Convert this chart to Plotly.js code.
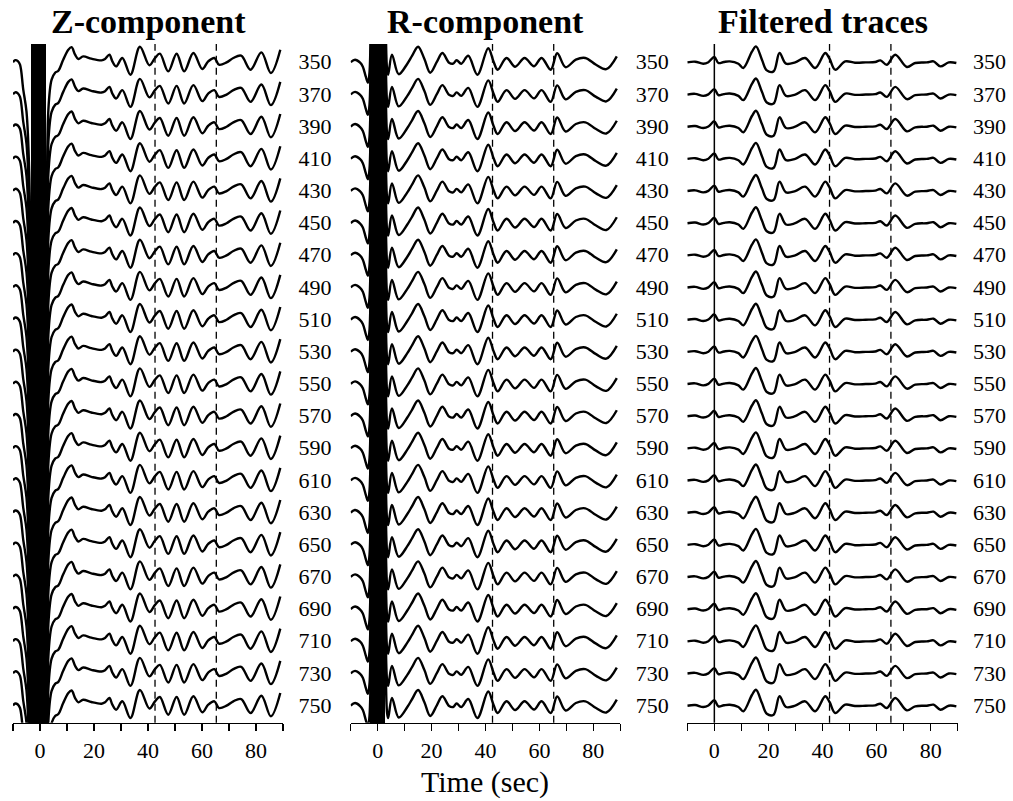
<!DOCTYPE html>
<html>
<head>
<meta charset="utf-8">
<script src="https://cdn.plot.ly/plotly-3.0.1.min.js"></script>
<style>
  html, body { margin: 0; padding: 0; background: #fff; }
  #chart { width: 1013px; height: 801px; }
</style>
</head>
<body>
<div id="chart"></div>
<script>
// ---- data ----
const distances = [350, 370, 390, 410, 430, 450, 470, 490, 510, 530, 550,
                   570, 590, 610, 630, 650, 670, 690, 710, 730, 750];

const panelTitles = ['Z-component', 'R-component', 'Filtered traces'];

// Z-component waveform (time in s, amplitude in picture units)
const zTime = [-10, -9.2, -8.2, -7.4, -6.2, -5.0, -4.0, -3.3, -2.9, -2.5, -2.0, -1.5, -1.0, -0.5, 0, 0.5, 1.0, 1.5, 1.9,
               2.6, 3.1, 4.3, 5.6, 6.8, 8.6, 10.5, 11.7, 13, 14.2, 16, 19, 22.8, 24.1, 25.7, 26.8, 28.2, 30.5, 33.5, 37,
               40.5, 42.6, 44.4, 47.5, 50.6, 53.4, 56.8, 60.1, 62.3, 64.6, 66.3, 69.1, 71.6, 74.5, 78, 82, 85.5, 89];
const zAmp  = [-0.5, 1.5, 0.5, -3, -28, -50, -110, -300, -1500, 1500, -1500, 1500, -1500, 1500, -1500, 1500, -1500, 1500, -1500,
               -250, -48, -18, -11, -9, 2, 12, 14.5, 7, 2.7, 5.3, 3, 1.3, 2.7, 7, 0.3, -4.7, 3.7, -13, 15,
               -3.5, 3.7, 8, -9.7, 8, -9.7, 8.7, -7.3, 0.3, 3.7, -3, -0.7, 3.7, 6, -8, 9.3, -11.3, 12];

// R-component waveform
const rTime = [-10, -8.4, -6.5, -5.5, -4.4, -3.6, -3.0, -2.5, -2.0, -1.5, -1.0, -0.5, 0, 0.5, 1.0, 1.5, 2.0, 2.5,
               3.0, 3.5, 3.9, 5.3, 7.8, 11, 12.8, 15, 17.3, 19.5, 22, 24, 26.5, 28, 29.3, 31, 33.6, 37, 41, 43, 44.5,
               47.8, 51, 54.5, 58, 60.8, 64.2, 66.6, 69.7, 73.5, 77, 81, 84.8, 88.7];
const rAmp  = [-0.5, 2, -1, -5, -15, -21, -10, 900, -900, 900, -900, 900, -900, 900, -900, 900, -900, 900,
               40, -8, -13, 7, -12.5, -2, 6, 15, 3, -11, 0, 8.7, -1, -2, 1.5, -2, 6, -13, 13.5, 0, -8,
               3.7, -5, 3.7, -4.5, 3.7, -8, 8.5, -5.5, 2, 3.7, -3, -7.5, 5.3];

// Filtered traces waveform
const fTime = [-10, -7.1, -4.1, -2.2, 0, 1.5, 3.5, 5.7, 8.9, 10.7, 13.9, 15.4, 17.6, 19.4, 21.9, 24.1, 26.5, 29.9,
               33.6, 37.3, 41, 42.6, 44.7, 48.4, 52, 56, 59.5, 61.4, 63.8, 66.9, 71.2, 74.3, 78.6, 81.1, 83.6, 86.7, 89.5];
const fAmp  = [-0.7, 0, -2, -0.5, 4.7, -1.3, -0.3, 0.3, -2, -6.3, 10, 15.3, 2, -8.7, -9.7, 8.7, -2, -0.7,
               3.7, -6.3, 8.7, 3, -8, 0.3, -1, -0.7, -0.3, 1.3, -3, 7, -5.3, -1.3, -0.7, 0.3, -4.7, -0.7, -1.3];

const pickTimes = [42.6, 65.3];     // dashed reference times
const zeroTime = [0];               // solid line on filtered panel
const xTickVals = [-10, 0, 10, 20, 30, 40, 50, 60, 70, 80, 90];
const xTickText = ['', '0', '', '20', '', '40', '', '60', '', '80', ''];
const xLabel = 'Time (sec)';

// ---- drawing ----
const waveTimes = [zTime, rTime, fTime];
const waveAmps  = [zAmp, rAmp, fAmp];
const gain = 422 / 678.7;   // picture units -> distance units
const FONT = 'Liberation Serif, Times New Roman, serif';

const traces = [];
for (let p = 0; p < 3; p++) {
  const ax = p === 0 ? '' : String(p + 1);
  distances.forEach(d => {
    traces.push({
      type: 'scatter', mode: 'lines',
      x: waveTimes[p],
      y: waveAmps[p].map(a => d - a * gain),
      xaxis: 'x' + ax, yaxis: 'y' + ax,
      line: { color: '#000', width: 2.4, shape: 'spline', smoothing: 1 },
      hoverinfo: 'skip', showlegend: false
    });
  });
}

const xDomains = [[13 / 1013, 283 / 1013], [350.7 / 1013, 620.3 / 1013], [687.3 / 1013, 957.7 / 1013]];
const yDomain = [78.3 / 801, 757 / 801];

const layout = {
  width: 1013, height: 801,
  margin: { l: 0, r: 0, t: 0, b: 0 },
  paper_bgcolor: '#fff', plot_bgcolor: '#fff',
  showlegend: false,
  font: { family: FONT, color: '#000' },
  shapes: [], annotations: []
};

for (let p = 0; p < 3; p++) {
  const ax = p === 0 ? '' : String(p + 1);
  layout['xaxis' + ax] = {
    domain: xDomains[p], anchor: 'y' + ax, range: [-10, 90],
    showline: true, linecolor: '#000', linewidth: 1.5,
    ticks: 'outside', ticklen: 7, tickwidth: 1.5, tickcolor: '#000',
    tickmode: 'array', tickvals: xTickVals, ticktext: xTickText,
    tickfont: { family: FONT, size: 22, color: '#000' },
    showgrid: false, zeroline: false, fixedrange: true
  };
  layout['yaxis' + ax] = {
    domain: yDomain, anchor: 'x' + ax, side: 'right', range: [761, 339],
    showline: false, showgrid: false, zeroline: false,
    ticks: 'outside', ticklen: 10, tickcolor: 'rgba(0,0,0,0)',
    tickmode: 'array', tickvals: distances, ticktext: distances.map(String),
    tickfont: { family: FONT, size: 22, color: '#000' },
    fixedrange: true
  };
  pickTimes.forEach(t => {
    layout.shapes.push({
      type: 'line', xref: 'x' + ax, yref: 'y' + ax + ' domain',
      x0: t, x1: t, y0: 0, y1: 1,
      line: { color: '#000', width: 1.3, dash: '7px,5px' }
    });
  });
  layout.annotations.push({
    text: '<b>' + panelTitles[p] + '</b>', xref: 'paper', yref: 'paper',
    x: (xDomains[p][0] + xDomains[p][1]) / 2, y: (801 - 22) / 801,
    xanchor: 'center', yanchor: 'middle', showarrow: false,
    font: { family: FONT, size: 34, color: '#000' }
  });
}
zeroTime.forEach(t => {
  layout.shapes.push({
    type: 'line', xref: 'x3', yref: 'y3 domain', x0: t, x1: t, y0: 0, y1: 1,
    line: { color: '#000', width: 1.5 }
  });
});
layout.annotations.push({
  text: xLabel, xref: 'paper', yref: 'paper',
  x: 485 / 1013, y: (801 - 782) / 801, xanchor: 'center', yanchor: 'middle',
  showarrow: false, font: { family: FONT, size: 30, color: '#000' }
});

Plotly.newPlot('chart', traces, layout, { staticPlot: true, displayModeBar: false });
</script>
</body>
</html>
